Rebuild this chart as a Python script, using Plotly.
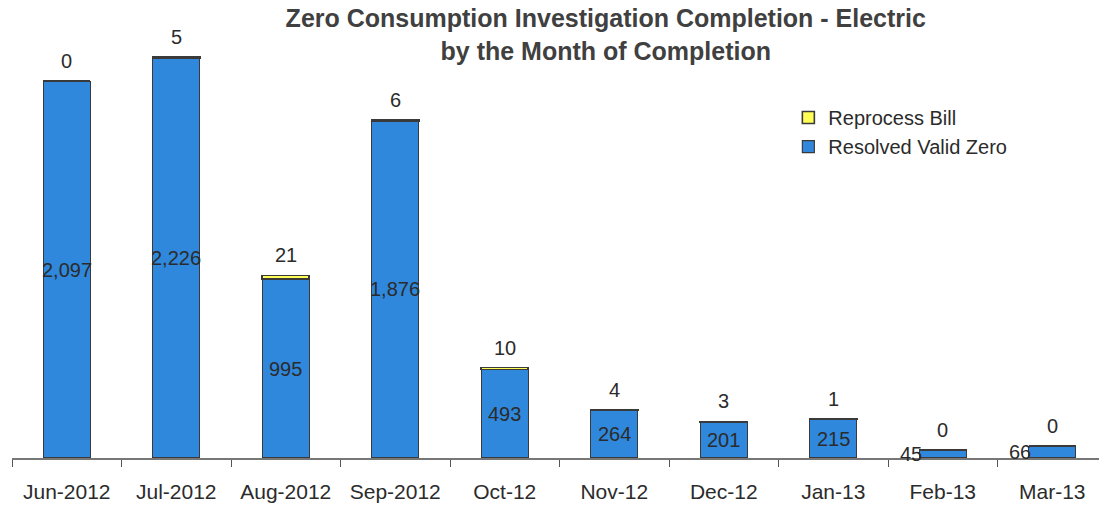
import plotly.graph_objects as go

months = ["Jun-2012", "Jul-2012", "Aug-2012", "Sep-2012", "Oct-12",
          "Nov-12", "Dec-12", "Jan-13", "Feb-13", "Mar-13"]
resolved_valid_zero = [2097, 2226, 995, 1876, 493, 264, 201, 215, 45, 66]
reprocess_bill = [0, 5, 21, 6, 10, 4, 3, 1, 0, 0]

FONT = "Liberation Sans, Arial, sans-serif"
TXT = "#2b2b2b"
LBL = 20

fig = go.Figure()
fig.add_trace(go.Bar(
    x=months, y=resolved_valid_zero, name="Resolved Valid Zero",
    marker=dict(color="#2f88dc", line=dict(color="#3a3a3a", width=1.2)),
    width=0.43,
))
fig.add_trace(go.Bar(
    x=months, y=reprocess_bill, name="Reprocess Bill",
    marker=dict(color="#ffff55", line=dict(color="#3a3a3a", width=1.6)),
    width=0.43,
))

annotations = []
for m, r, p in zip(months, resolved_valid_zero, reprocess_bill):
    label = f"{r:,}"
    if r < 100:
        annotations.append(dict(x=m, y=r / 2, text=label, showarrow=False,
                                xanchor="right", yanchor="middle", xshift=-19,
                                font=dict(size=LBL, color=TXT, family=FONT)))
    else:
        annotations.append(dict(x=m, y=r / 2, text=label, showarrow=False,
                                xanchor="center", yanchor="middle",
                                font=dict(size=LBL, color=TXT, family=FONT)))
    annotations.append(dict(x=m, y=r + p, text=str(p), showarrow=False,
                            xanchor="center", yanchor="bottom", yshift=7,
                            font=dict(size=LBL, color=TXT, family=FONT)))

fig.update_layout(
    width=1107, height=508,
    barmode="stack",
    paper_bgcolor="white", plot_bgcolor="white",
    margin=dict(l=4, r=8, t=30, b=58),
    title=dict(text="Zero Consumption Investigation Completion - Electric<br>by the Month of Completion",
               x=0.540, xanchor="center", y=0.962, yanchor="top", pad=dict(t=0, b=0),
               font=dict(size=25, color="#404040", family=FONT, weight="bold")),
    legend=dict(x=0.709, y=0.857, xanchor="left", yanchor="top",
                font=dict(size=20, color=TXT, family=FONT),
                bgcolor="rgba(0,0,0,0)", itemwidth=30, tracegroupgap=4),
    showlegend=True,
    annotations=annotations,
    xaxis=dict(type="category", tickson="boundaries", ticks="outside", ticklen=7,
               tickcolor="#555", showline=True, linecolor="#777", linewidth=1.5,
               showgrid=False, ticklabelstandoff=14,
               tickfont=dict(size=21, color=TXT, family=FONT)),
    yaxis=dict(range=[0, 2337], visible=False, showgrid=False),
)

fig.write_html("out.html")
